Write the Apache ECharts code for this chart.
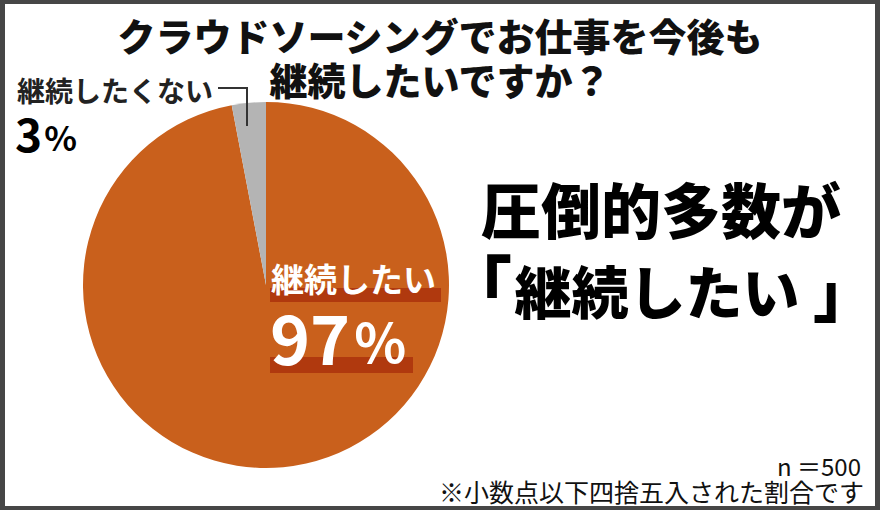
<!DOCTYPE html>
<html><head><meta charset="utf-8">
<script src="https://cdn.jsdelivr.net/npm/echarts@6/dist/echarts.min.js"></script>
<style>html,body{margin:0;padding:0;background:#fff}#c{width:880px;height:510px}</style>
</head><body><div id="c"></div>
<script>
const titleLines = ['クラウドソーシングでお仕事を今後も', '継続したいですか？'];
const categories = ['継続したい', '継続したくない'];
const values = [97, 3];
const headline = ['圧倒的多数が', '継続したい'];
const brackets = ['「', '」'];
const notes = ['n ＝500', '※小数点以下四捨五入された割合です'];

const FF = '"Noto Sans CJK JP", "Noto Sans", sans-serif';
const chart = echarts.init(document.getElementById('c'), null, {renderer: 'svg'});
const border = '#464646';
const titleStyle = {fontFamily: FF, fontSize: 38, fontWeight: 900, color: '#111', lineHeight: 36};
const hl = {fill: '#000', fontFamily: FF, fontWeight: 900, textVerticalAlign: 'middle'};
chart.setOption({
  backgroundColor: '#ffffff',
  textStyle: {fontFamily: FF},
  animation: false,
  title: [
    {text: titleLines[0], left: 'center', top: 16, padding: 0, textStyle: titleStyle},
    {text: titleLines[1], left: 'center', top: 60, padding: 0, textStyle: titleStyle}
  ],
  series: [{
    type: 'pie',
    center: [266, 285],
    radius: 183,
    startAngle: 90,
    clockwise: true,
    silent: true,
    label: {show: false},
    labelLine: {show: false},
    itemStyle: {borderWidth: 0},
    emphasis: {disabled: true},
    data: categories.map((c, i) => ({name: c, value: values[i], itemStyle: {color: i === 0 ? '#C9601C' : '#B4B4B4'}}))
  }],
  graphic: [
    // label bands
    {type: 'rect', shape: {x: 270, y: 288, width: 171, height: 14}, style: {fill: '#B0390E'}, z: 10},
    {type: 'rect', shape: {x: 270, y: 357, width: 143, height: 16}, style: {fill: '#B0390E'}, z: 10},
    {type: 'text', x: 271, y: 278, z: 11,
      style: {text: categories[0], fill: '#fff', fontFamily: FF, fontSize: 33, lineHeight: 30, fontWeight: 'bold', textVerticalAlign: 'middle', textAlign: 'left'}},
    {type: 'text', x: 270, y: 335, z: 11,
      style: {text: '{a|' + values[0] + '}{b|%}', textVerticalAlign: 'middle', textAlign: 'left',
        rich: {a: {fill: '#fff', fontFamily: FF, fontSize: 68, lineHeight: 56, fontWeight: 'bold', color: '#fff'},
               b: {fill: '#fff', fontFamily: FF, fontSize: 54, lineHeight: 50, fontWeight: 'bold', color: '#fff', padding: [8, 0, 0, 4]}}}},
    // small slice label
    {type: 'polyline', shape: {points: [[218, 88], [247, 88], [247, 126]]}, style: {stroke: '#333', lineWidth: 2, fill: null}, z: 10},
    {type: 'text', x: 17, y: 90, z: 11,
      style: {text: categories[1], fill: '#222', fontFamily: FF, fontSize: 28, lineHeight: 24, fontWeight: 'bold', textVerticalAlign: 'middle', textAlign: 'left'}},
    {type: 'text', x: 15, y: 132, z: 11,
      style: {text: '{a|' + values[1] + '}{b|%}', textVerticalAlign: 'middle', textAlign: 'left',
        rich: {a: {color: '#222', fontFamily: FF, fontSize: 46, lineHeight: 36, fontWeight: 'bold'},
               b: {color: '#222', fontFamily: FF, fontSize: 34, lineHeight: 28, fontWeight: 'bold', padding: [8, 0, 0, 2]}}}},
    // headline
    {type: 'text', x: 661, y: 207, z: 11,
      style: Object.assign({text: headline[0], fontSize: 60, lineHeight: 60, textAlign: 'center'}, hl)},
    {type: 'text', x: 657, y: 289, z: 11,
      style: Object.assign({text: headline[1], fontSize: 57, lineHeight: 57, textAlign: 'center'}, hl)},
    {type: 'text', x: 512, y: 283, z: 11,
      style: Object.assign({text: brackets[0], fontSize: 68, lineHeight: 60, textAlign: 'right'}, hl)},
    {type: 'text', x: 813, y: 290, z: 11,
      style: Object.assign({text: brackets[1], fontSize: 62, lineHeight: 56, textAlign: 'left'}, hl)},
    // notes
    {type: 'text', x: 861, y: 465, z: 11,
      style: {text: notes[0], fill: '#111', fontFamily: FF, fontSize: 24, lineHeight: 21, textAlign: 'right', textVerticalAlign: 'middle'}},
    {type: 'text', x: 864, y: 491, z: 11,
      style: {text: notes[1], fill: '#111', fontFamily: FF, fontSize: 25, lineHeight: 22, textAlign: 'right', textVerticalAlign: 'middle'}},
    // frame
    {type: 'rect', shape: {x: 0, y: 0, width: 880, height: 4}, style: {fill: border}, z: 20},
    {type: 'rect', shape: {x: 0, y: 506, width: 880, height: 4}, style: {fill: border}, z: 20},
    {type: 'rect', shape: {x: 0, y: 0, width: 5, height: 510}, style: {fill: border}, z: 20},
    {type: 'rect', shape: {x: 875, y: 0, width: 5, height: 510}, style: {fill: border}, z: 20}
  ]
});
</script></body></html>
